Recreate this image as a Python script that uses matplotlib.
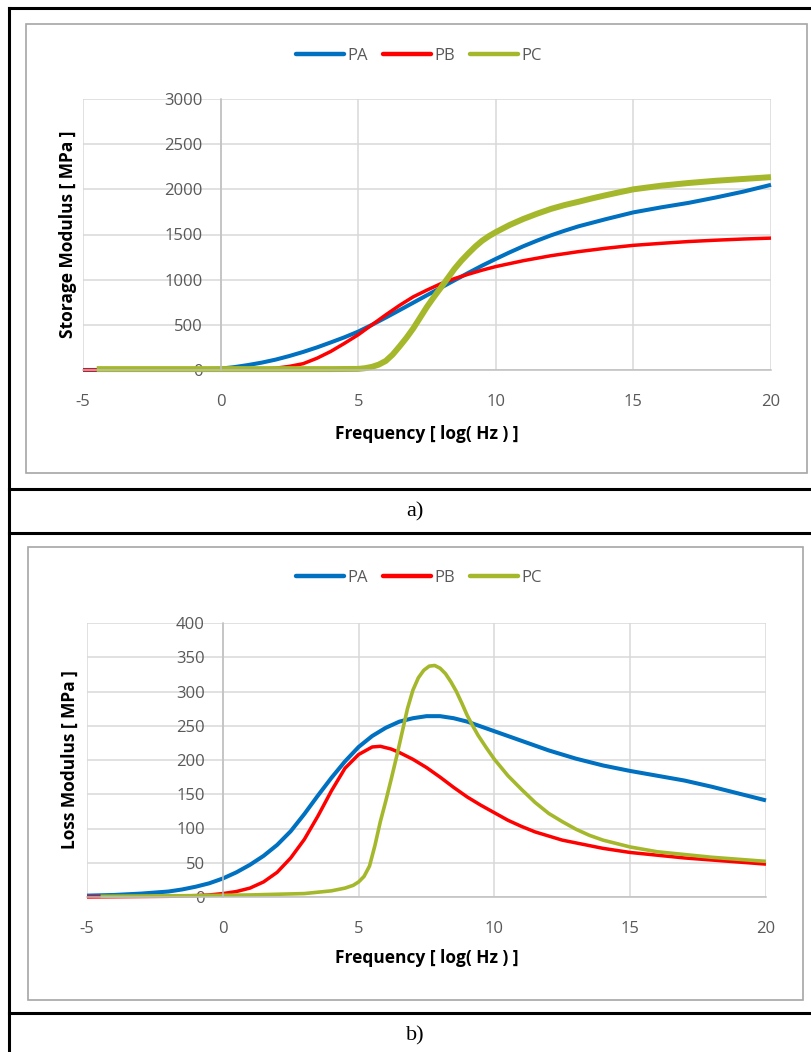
import matplotlib
matplotlib.use('Agg')
import matplotlib.pyplot as plt
from matplotlib.patches import Rectangle
from matplotlib.lines import Line2D

plt.rcParams['font.family'] = ['Open Sans', 'DejaVu Sans']
plt.rcParams['axes.unicode_minus'] = False

series = ['PA', 'PB', 'PC']
colors = ['#0070C0', '#FF0000', '#A5B82C']

# a) storage modulus [MPa] vs log frequency
pa_sx = [-5, -3, -1, 0, 0.5, 1, 1.5, 2, 2.5, 3, 3.5, 4, 4.5, 5, 5.5, 6, 6.5, 7, 7.5, 8, 8.5, 9, 9.5,
         10, 10.5, 11, 11.5, 12, 12.5, 13, 14, 15, 16, 17, 18, 19, 20]
pa_sy = [0, 2, 6, 15, 32, 55, 82, 115, 155, 200, 250, 305, 362, 425, 500, 580, 662, 745, 828, 910,
         993, 1075, 1155, 1230, 1302, 1370, 1432, 1490, 1542, 1590, 1670, 1745, 1800, 1850, 1910,
         1975, 2050]
pb_sx = [-5, 0, 0.5, 1, 1.5, 2, 2.5, 3, 3.5, 4, 4.5, 5, 5.5, 6, 6.5, 7, 7.5, 8, 8.5, 9, 9.5, 10, 11,
         12, 13, 14, 15, 16, 17, 18, 19, 20]
pb_sy = [0, 0, 2, 5, 10, 20, 40, 70, 130, 205, 295, 390, 500, 610, 715, 810, 885, 955, 1012, 1060,
         1105, 1145, 1210, 1265, 1310, 1348, 1380, 1402, 1422, 1437, 1450, 1460]
pc_sx = [-4.5, 0, 4, 5, 5.25, 5.5, 5.75, 6, 6.25, 6.5, 6.75, 7, 7.25, 7.5, 7.75, 8, 8.25, 8.5, 8.75,
         9, 9.25, 9.5, 9.75, 10, 10.5, 11, 11.5, 12, 12.5, 13, 13.5, 14, 14.5, 15, 16, 17, 18, 19, 20]
pc_sy = [10, 10, 10, 12, 20, 35, 60, 100, 170, 260, 355, 460, 580, 700, 808, 910, 1015, 1120, 1210,
         1290, 1365, 1430, 1482, 1526, 1605, 1672, 1730, 1783, 1826, 1862, 1900, 1935, 1968, 2000,
         2040, 2070, 2095, 2115, 2135]

# b) loss modulus [MPa] vs log frequency
pa_lx = [-5, -4, -3, -2, -1.5, -1, -0.5, 0, 0.5, 1, 1.5, 2, 2.5, 3, 3.5, 4, 4.5, 5, 5.5, 6, 6.5, 7,
         7.5, 8, 8.5, 9, 9.5, 10, 10.5, 11, 11.5, 12, 12.5, 13, 14, 15, 16, 17, 18, 19, 20]
pa_ly = [2, 3, 5, 8, 11, 15, 20, 27, 36, 47, 60, 76, 96, 121, 148, 174, 198, 219, 235, 247, 256, 261,
         264, 264, 261, 256, 249, 242, 235, 228, 221, 214, 208, 202, 192, 184, 177, 170, 161, 151, 141]
pb_lx = [-5, -2, -1, -0.5, 0, 0.5, 1, 1.5, 2, 2.5, 3, 3.5, 4, 4.5, 5, 5.5, 5.8, 6.2, 6.5, 7, 7.5, 8,
         8.5, 9, 9.5, 10, 10.5, 11, 11.5, 12, 12.5, 13, 14, 15, 16, 17, 18, 19, 20]
pb_ly = [0, 1, 2, 3, 5, 8, 13, 22, 36, 57, 84, 118, 155, 188, 208, 219, 220, 216, 211, 201, 189, 175,
         160, 146, 134, 123, 112, 103, 95, 89, 83, 79, 71, 65, 61, 57, 54, 51, 48]
pc_lx = [-4.5, -1, 1, 2, 3, 3.5, 4, 4.5, 4.8, 5, 5.2, 5.4, 5.6, 5.8, 6.0, 6.2, 6.4, 6.6, 6.8, 7.0,
         7.2, 7.4, 7.6, 7.8, 8.0, 8.2, 8.4, 8.6, 8.8, 9.0, 9.2, 9.4, 9.7, 10, 10.5, 11, 11.5, 12, 12.5,
         13, 13.5, 14, 15, 16, 17, 18, 19, 20]
pc_ly = [1, 2, 3, 4, 5, 7, 9, 13, 17, 22, 30, 45, 75, 110, 140, 172, 205, 240, 275, 302, 320, 331,
         337, 338, 334, 326, 314, 300, 283, 265, 250, 236, 218, 201, 177, 157, 138, 122, 110, 99, 90,
         83, 73, 66, 62, 58, 55, 52]

x_ticks = [-5, 0, 5, 10, 15, 20]
s_ticks = [0, 500, 1000, 1500, 2000, 2500, 3000]
l_ticks = [0, 50, 100, 150, 200, 250, 300, 350, 400]

W, H = 812, 1052
fig = plt.figure(figsize=(W / 100, H / 100), dpi=100)


def fx(px):
    return px / W


def fy(py):
    return 1 - py / H


# table lines and chart frames
for (x0, y0, x1, y1) in [(9, 8, 812, 8), (9, 489, 812, 489), (9, 533, 812, 533),
                         (9, 1013, 812, 1013), (9, 8, 9, 1052)]:
    fig.add_artist(Line2D([fx(x0), fx(x1)], [fy(y0), fy(y1)], color='black', lw=2.2,
                          transform=fig.transFigure))
for (x0, y0, x1, y1) in [(26, 24, 807, 473), (28, 547, 803, 1000)]:
    fig.add_artist(Rectangle((fx(x0), fy(y1)), fx(x1) - fx(x0), fy(y0) - fy(y1), fill=False,
                             edgecolor='#A6A6A6', lw=1.2, transform=fig.transFigure))


def make_chart(box, xs, ys, widths, yticks, ylabel, ylab_px, xlab_py, leg_xy):
    l, t, r, b = box
    ax = fig.add_axes([fx(l), fy(b), fx(r) - fx(l), fy(t) - fy(b)])
    ax.set_facecolor('none')
    for x, y, c, w in zip(xs, ys, colors, widths):
        ax.plot(x, y, color=c, lw=w, solid_capstyle='butt', solid_joinstyle='round', clip_on=False)
    ax.set_xlim(-5, 20)
    ax.set_ylim(0, yticks[-1])
    ax.set_xticks(x_ticks)
    ax.set_yticks(yticks)
    ax.grid(True, color='#D9D9D9', lw=1.1)
    ax.set_axisbelow(True)
    for s in ['top', 'right']:
        ax.spines[s].set_visible(False)
    ax.spines['left'].set_position(('data', 0))
    ax.spines['left'].set_color('#BFBFBF')
    ax.spines['bottom'].set_color('#BFBFBF')
    ax.spines['left'].set_linewidth(1.1)
    ax.spines['bottom'].set_linewidth(1.1)
    ax.tick_params(length=0, labelsize=12, labelcolor='#595959')
    ax.tick_params(axis='x', pad=17)
    ax.tick_params(axis='y', pad=13)
    ax.set_ylabel(ylabel, fontsize=12.5, fontweight='bold', va='center')
    ax.yaxis.set_label_coords((ylab_px - l) / (r - l), 0.5)
    ax.set_xlabel('Frequency [ log( Hz ) ]', fontsize=12.5, fontweight='bold', va='center')
    ax.xaxis.set_label_coords(0.5, (b - xlab_py) / (b - t))
    handles = [Line2D([], [], color=c, lw=3.2, solid_capstyle='round') for c in colors]
    ax.legend(handles, series, loc='center', bbox_to_anchor=(fx(leg_xy[0]), fy(leg_xy[1])),
              bbox_transform=fig.transFigure, ncol=3, frameon=False, fontsize=12,
              labelcolor='#595959', handlelength=2.9, handletextpad=0.2, columnspacing=0.9)
    return ax


make_chart((83, 99, 771, 370), [pa_sx, pb_sx, pc_sx], [pa_sy, pb_sy, pc_sy], [2.9, 2.5, 4.3],
           s_ticks, 'Storage Modulus [ MPa ]', 68, 434, (419, 56))
make_chart((87, 623, 766, 897), [pa_lx, pb_lx, pc_lx], [pa_ly, pb_ly, pc_ly], [2.9, 2.5, 2.6],
           l_ticks, 'Loss Modulus [ MPa ]', 70, 958, (419, 578))

fig.text(fx(415), fy(512), 'a)', family='Liberation Serif', fontsize=16, ha='center', va='center')
fig.text(fx(415), fy(1036), 'b)', family='Liberation Serif', fontsize=16, ha='center', va='center')

fig.savefig('out.png', dpi=100)
